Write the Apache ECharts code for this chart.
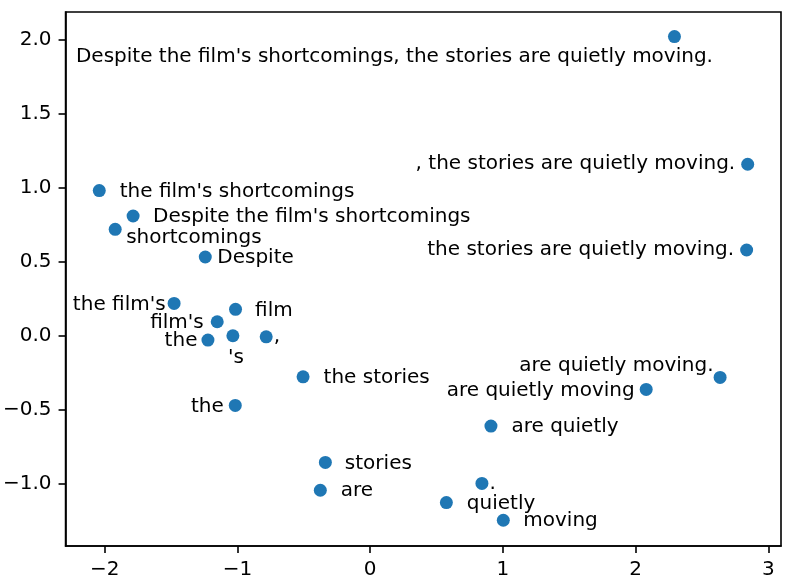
<!DOCTYPE html>
<html>
<head>
<meta charset="utf-8">
<title>phrase embedding scatter</title>
<script src="https://cdn.jsdelivr.net/npm/echarts@6/dist/echarts.min.js"></script>
<style>
  html, body { margin: 0; padding: 0; background: #fff; }
  #chart { width: 789px; height: 584px; }
</style>
</head>
<body>
<div id="chart"></div>
<script>
// phrase coordinates
const pointX = [2.293, 2.845, 2.837, -2.042, -1.787, -1.922, -1.243, -1.478, -1.015, -1.153, -1.223, -1.035, -0.784, -0.506, -1.017, -0.338, -0.376, 2.637, 2.080, 0.910, 0.842, 0.574, 1.003]
const pointY = [2.024, 1.160, 0.580, 0.982, 0.810, 0.720, 0.533, 0.219, 0.179, 0.095, -0.029, 0.000, -0.007, -0.278, -0.471, -0.857, -1.045, -0.282, -0.363, -0.611, -0.999, -1.128, -1.248]
const pointText = [
  "Despite the film's shortcomings, the stories are quietly moving.",
  ', the stories are quietly moving.',
  'the stories are quietly moving.',
  "the film's shortcomings",
  "Despite the film's shortcomings",
  'shortcomings',
  'Despite',
  "the film's",
  'film',
  "film's",
  'the',
  "'s",
  ',',
  'the stories',
  'the',
  'stories',
  'are',
  'are quietly moving.',
  'are quietly moving',
  'are quietly',
  '.',
  'quietly',
  'moving'
]
const xTicks = [-2, -1, 0, 1, 2, 3]
const yTicks = [-1, -0.5, 0, 0.5, 1, 1.5, 2]

// where each label sits next to its point: [position, distance, dx, dy]
const labelLayout = [
  ['inside', 0, -280, 20],
  ['left', 6, 0, 0],
  ['left', 6, 0, 0],
  ['right', 14, 0, 1],
  ['right', 13.5, 0, 1],
  ['right', 4.5, 0, 8],
  ['right', 5.5, 0, 1],
  ['left', 2, 0, 1],
  ['right', 13, 0, 1],
  ['left', 7, 0, 1],
  ['left', 4, 0, 1],
  ['inside', 0, 3, 22],
  ['right', 1, 0, 0],
  ['right', 14, 0, 1],
  ['left', 5, 0, 1],
  ['right', 13, 0, 1],
  ['right', 14, 0, 1],
  ['left', 0, 0, -12],
  ['left', 5, 0, 1],
  ['right', 14, 0, 1],
  ['right', 1, 0, 0],
  ['right', 14, 0, 1],
  ['right', 13.5, 0, 1]
]

const fontFamily = 'DejaVu Sans'
const minus = s => s.replace('-', '\u2212')

const chart = echarts.init(document.getElementById('chart'), null, { renderer: 'canvas' })

const seriesData = pointX.map(function(x, i) {
  const lay = labelLayout[i]
  return {
    value: [x, pointY[i]],
    label: {
      show: true,
      formatter: pointText[i],
      position: lay[0],
      distance: lay[1],
      offset: [lay[2], lay[3]],
      color: '#000',
      fontFamily: fontFamily,
      fontSize: 20
    }
  }
})

chart.setOption({
  backgroundColor: '#fff',
  animation: false,
  grid: {
    left: 64,
    right: 8,
    top: 12,
    bottom: 38,
    show: true,
    borderColor: '#000',
    borderWidth: 1.6,
    backgroundColor: 'transparent'
  },
  xAxis: {
    type: 'value',
    min: -2.296,
    max: 3.096,
    axisLine: { show: true, onZero: false, lineStyle: { color: '#000', width: 1.6 } },
    splitLine: { show: false },
    axisTick: {
      show: true,
      customValues: xTicks,
      length: 7,
      inside: false,
      lineStyle: { color: '#000', width: 1.6 }
    },
    axisLabel: {
      customValues: xTicks,
      margin: 14,
      color: '#000',
      fontFamily: fontFamily,
      fontSize: 20,
      formatter: v => minus(v.toFixed(0))
    }
  },
  yAxis: {
    type: 'value',
    min: -1.422,
    max: 2.19,
    axisLine: { show: true, onZero: false, lineStyle: { color: '#000', width: 1.6 } },
    splitLine: { show: false },
    axisTick: {
      show: true,
      customValues: yTicks,
      length: 7,
      inside: false,
      lineStyle: { color: '#000', width: 1.6 }
    },
    axisLabel: {
      customValues: yTicks,
      margin: 14,
      color: '#000',
      fontFamily: fontFamily,
      fontSize: 20,
      formatter: v => minus(v.toFixed(1))
    }
  },
  series: [{
    type: 'scatter',
    symbol: 'circle',
    symbolSize: 13,
    itemStyle: { color: '#1f77b4', opacity: 1 },
    data: seriesData
  }]
})
</script>
</body>
</html>
